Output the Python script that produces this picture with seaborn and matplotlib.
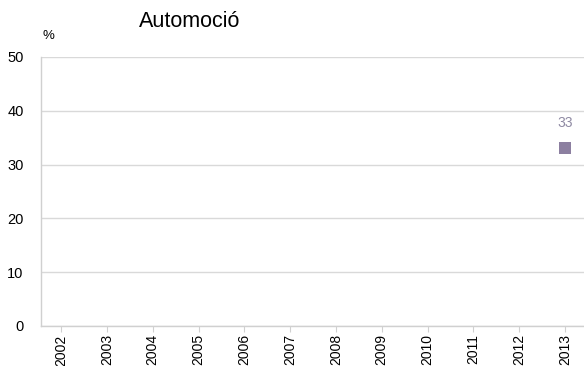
import numpy as np
import pandas as pd
import seaborn as sns
import matplotlib
matplotlib.use("Agg")
import matplotlib.pyplot as plt

years = ["2002", "2003", "2004", "2005", "2006", "2007", "2008", "2009", "2010", "2011", "2012", "2013"]
values = [np.nan] * 11 + [33]

sns.set_style("white")
plt.rcParams['font.family'] = ['Liberation Sans', 'DejaVu Sans']

df = pd.DataFrame({"pos": np.arange(len(years)), "year": years, "value": values})

fig = plt.figure(figsize=(5.84, 3.66), dpi=100)
ax = fig.add_axes([0.0702, 0.1093, 0.93, 0.735])

color = "#8c7fa0"
sns.scatterplot(data=df.dropna(), x="pos", y="value", marker="s", s=70, color=color,
                edgecolor=color, linewidth=0, ax=ax, zorder=3)
for _, r in df.dropna().iterrows():
    ax.annotate(f"{r['value']:.0f}", (r["pos"], r["value"]), xytext=(0, 13),
                textcoords="offset points", ha="center", va="bottom",
                fontsize=10, color="#8f8aa3")

ax.set_ylim(0, 50)
ax.set_yticks([0, 10, 20, 30, 40, 50])
ax.set_xlim(-0.44, 11.42)
ax.set_xticks(df["pos"])
ax.set_xticklabels(years, rotation=90)
ax.grid(axis="y", color="#d9d9d9", linewidth=1)
ax.set_axisbelow(True)
ax.set_xlabel("")
ax.set_ylabel("")
for s in ["top", "right"]:
    ax.spines[s].set_visible(False)
for s in ["left", "bottom"]:
    ax.spines[s].set_color("#d0d0d0")
    ax.spines[s].set_linewidth(1)
ax.tick_params(axis="x", bottom=True, length=4, color="#d0d0d0", labelsize=10,
               labelcolor="black", pad=2)
ax.tick_params(axis="y", left=False, labelsize=10.5, labelcolor="black", pad=9)

fig.text(0.072, 0.885, "%", fontsize=9.5, ha="left", va="bottom", color="black")
fig.text(0.325, 0.94, "Automoció", fontsize=15.5, ha="center", va="center", color="black")

fig.savefig("out.png", dpi=100)
